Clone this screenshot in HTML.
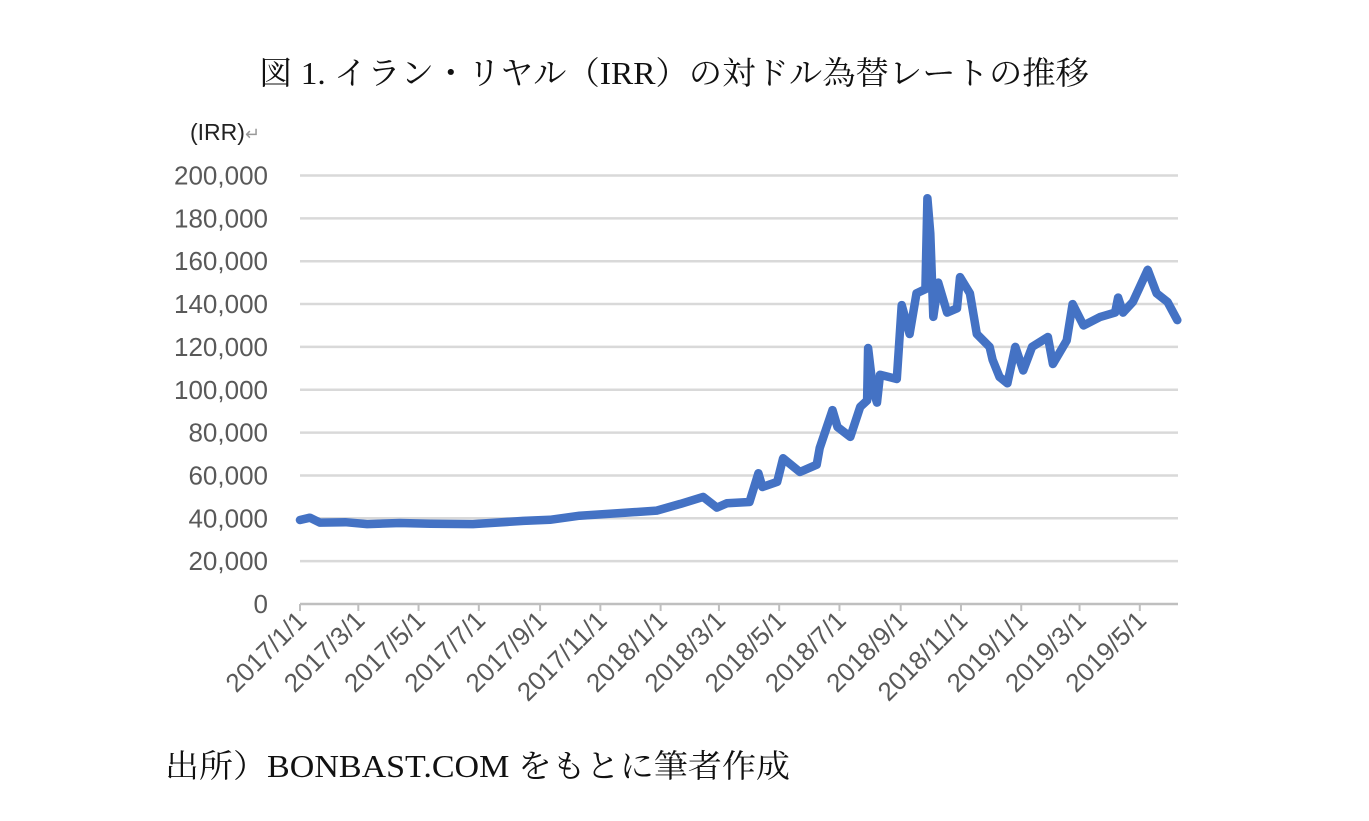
<!DOCTYPE html>
<html><head><meta charset="utf-8">
<style>
html,body{margin:0;padding:0;background:#fff;}
body{width:1369px;height:821px;overflow:hidden;position:relative;}
svg{position:absolute;left:0;top:0;}
</style></head>
<body>
<svg id="chart" width="1369" height="821" xmlns="http://www.w3.org/2000/svg">
<text x="674" y="84" text-anchor="middle" textLength="830" lengthAdjust="spacingAndGlyphs" font-family="Liberation Serif, Noto Serif CJK SC, serif" font-size="32" fill="#111">図 1. イラン・リヤル（IRR）の対ドル為替レートの推移</text>
<text x="190" y="140" font-family="Liberation Sans, sans-serif" font-size="23" fill="#222">(IRR)<tspan fill="#999" font-size="18">↵</tspan></text>
<g id="grid"></g>
<g id="yticks"></g>
<g id="xticks"></g>
<path id="line" fill="none" stroke="#4472C4" stroke-width="8.5" stroke-linejoin="round" stroke-linecap="round"/>
<text x="165" y="777" textLength="625" lengthAdjust="spacingAndGlyphs" font-family="Liberation Serif, Noto Serif CJK SC, serif" font-size="32" fill="#111">出所）BONBAST.COM をもとに筆者作成</text>
</svg>
<script>
const dates=["2017-01-01","2017-01-11","2017-01-21","2017-02-16","2017-03-10","2017-04-12","2017-05-13","2017-06-25","2017-08-15","2017-09-11","2017-10-11","2017-11-24","2017-12-28","2018-01-21","2018-02-13","2018-02-27","2018-03-09","2018-04-01","2018-04-10","2018-04-14","2018-04-29","2018-05-05","2018-05-22","2018-06-08","2018-06-11","2018-06-24","2018-06-29","2018-07-12","2018-07-22","2018-07-29","2018-07-30","2018-08-04","2018-08-08","2018-08-11","2018-08-28","2018-09-02","2018-09-10","2018-09-17","2018-09-26","2018-09-28","2018-10-01","2018-10-04","2018-10-09","2018-10-18","2018-10-28","2018-10-31","2018-11-10","2018-11-17","2018-11-30","2018-12-03","2018-12-10","2018-12-18","2018-12-26","2019-01-03","2019-01-12","2019-01-28","2019-02-02","2019-02-16","2019-02-22","2019-03-05","2019-03-22","2019-04-06","2019-04-09","2019-04-14","2019-04-24","2019-05-09","2019-05-18","2019-05-29","2019-06-08"];
const values=[39200,40300,38000,38200,37300,37800,37500,37300,38800,39300,41200,42500,43600,46700,50000,45000,47000,47600,61000,54600,57000,68000,61600,65000,72800,90500,82600,78000,92000,95000,119500,100000,94000,107000,105000,139500,126000,145000,147000,189400,173000,134000,150000,136000,138000,152600,145000,126000,120000,114000,106000,103000,120000,109000,120000,124600,112000,123000,140000,130000,134000,136000,143000,136000,141000,156000,145000,141000,132500];
const yTicks=[0,20000,40000,60000,80000,100000,120000,140000,160000,180000,200000];
const xTickLabels=["2017/1/1","2017/3/1","2017/5/1","2017/7/1","2017/9/1","2017/11/1","2018/1/1","2018/3/1","2018/5/1","2018/7/1","2018/9/1","2018/11/1","2019/1/1","2019/3/1","2019/5/1"];

const NS="http://www.w3.org/2000/svg";
const X0=300,X1=1178,Y0=604,Y1=175.5;
const T0=Date.UTC(2017,0,1);
function dayOf(s){const p=s.split(/[-\/]/).map(Number);return (Date.UTC(p[0],p[1]-1,p[2])-T0)/86400000;}
function xs(d){return X0+d*0.988;}
function ys(v){return Y0-(v/200000)*(Y0-Y1);}
const grid=document.getElementById('grid'),yt=document.getElementById('yticks'),xt=document.getElementById('xticks');
yTicks.forEach(v=>{
  const y=ys(v);
  const l=document.createElementNS(NS,'line');
  
  
  l.setAttribute('x1',X0);l.setAttribute('x2',X1);l.setAttribute('y1',y);l.setAttribute('y2',y);
  l.setAttribute('stroke',v===0?'#bfbfbf':'#d9d9d9');l.setAttribute('stroke-width','2.5');
  grid.appendChild(l);
  const t=document.createElementNS(NS,'text');
  
  
  t.setAttribute('x',268);t.setAttribute('y',y+9);t.setAttribute('text-anchor','end');
  t.setAttribute('font-family','Liberation Sans, sans-serif');t.setAttribute('font-size','26');t.setAttribute('fill','#595959');
  t.textContent=v.toLocaleString('en-US');
  yt.appendChild(t);
});
xTickLabels.forEach(s=>{
  const x=xs(dayOf(s));
  const m=document.createElementNS(NS,'line');
  
  
  m.setAttribute('x1',x);m.setAttribute('x2',x);m.setAttribute('y1',Y0);m.setAttribute('y2',Y0+7);
  m.setAttribute('stroke','#bfbfbf');m.setAttribute('stroke-width','2');
  xt.appendChild(m);
  const t=document.createElementNS(NS,'text');
  
  
  t.setAttribute('x',x+8);t.setAttribute('y',Y0+18);t.setAttribute('text-anchor','end');
  t.setAttribute('transform','rotate(-45 '+(x+8)+' '+(Y0+18)+')');
  t.setAttribute('font-family','Liberation Sans, sans-serif');t.setAttribute('font-size','26');t.setAttribute('fill','#595959');
  t.textContent=s;
  xt.appendChild(t);
});
let d='';
dates.forEach((s,i)=>{d+=(i?'L':'M')+xs(dayOf(s)).toFixed(1)+' '+ys(values[i]).toFixed(1);});
document.getElementById('line').setAttribute('d',d);
</script>
</body></html>
